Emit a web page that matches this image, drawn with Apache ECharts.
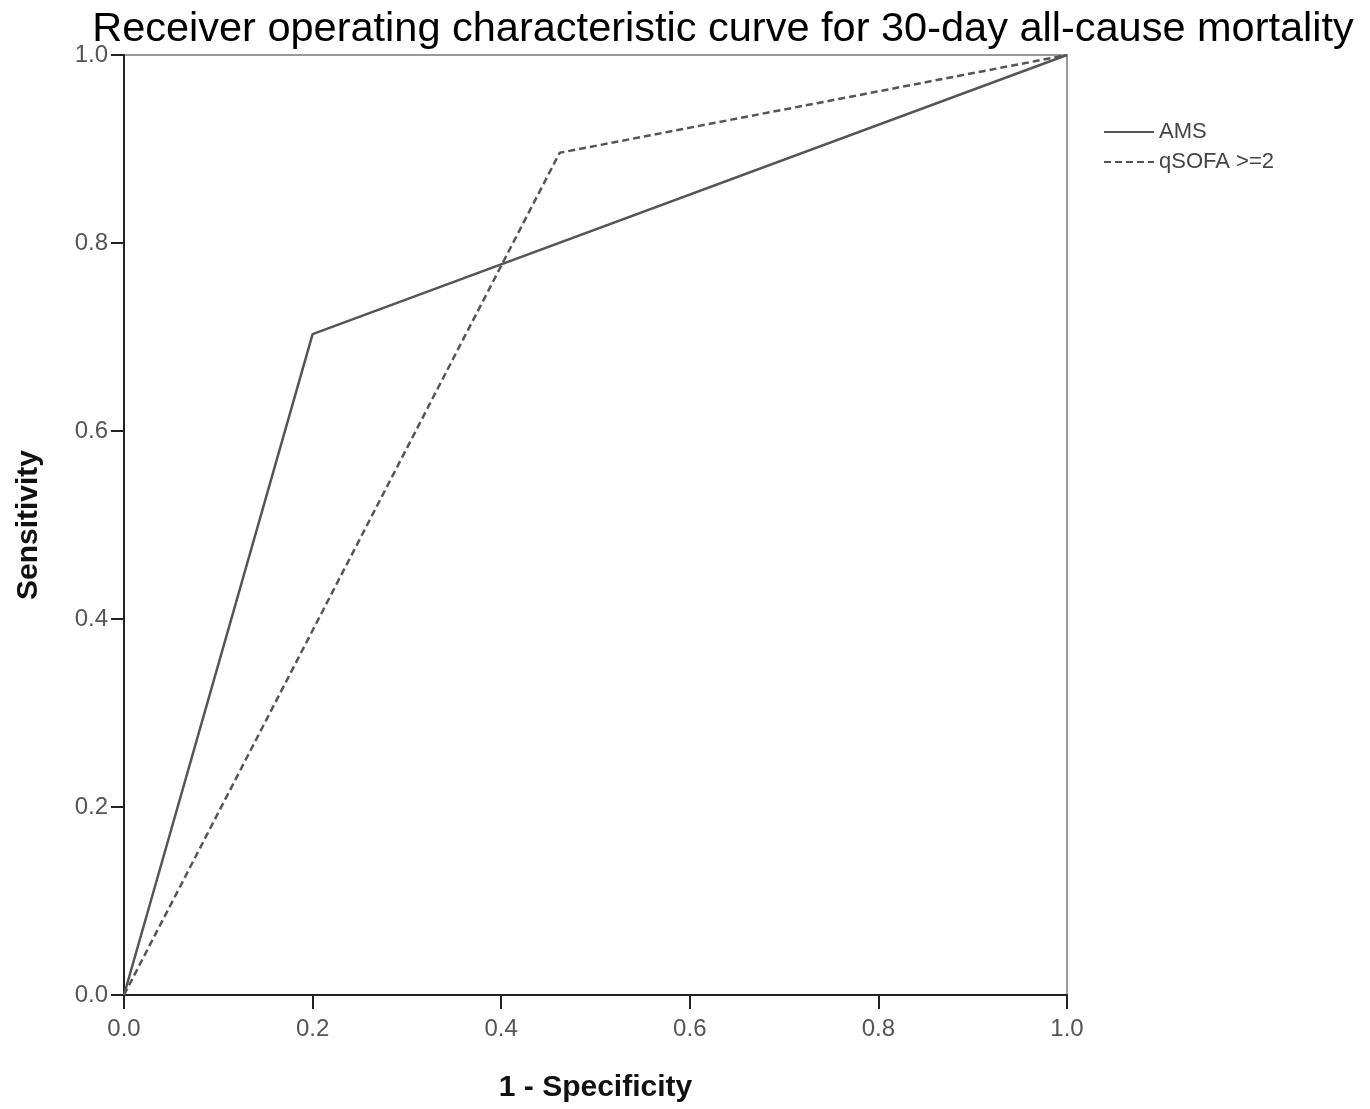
<!DOCTYPE html>
<html>
<head>
<meta charset="utf-8">
<script src="https://cdn.jsdelivr.net/npm/echarts@6/dist/echarts.min.js"></script>
<style>html,body{margin:0;padding:0;background:#fff}#c{width:1370px;height:1109px}</style>
</head>
<body>
<div id="c"></div>
<script>
const titleText = 'Receiver operating characteristic curve for 30-day all-cause mortality';
const xName = '1 - Specificity';
const yName = 'Sensitivity';
const seriesNames = ['AMS', 'qSOFA >=2'];
const amsX = [0.0, 0.2, 1.0];
const amsY = [0.0, 0.703, 1.0];
const qsofaX = [0.0, 0.462, 1.0];
const qsofaY = [0.0, 0.896, 1.0];

const chart = echarts.init(document.getElementById('c'));
const pairs = (xs, ys) => xs.map((x, i) => [x, ys[i]]);
const sans = "'Liberation Sans', Arial, sans-serif";
chart.setOption({
  animation: false,
  backgroundColor: '#fff',
  title: {
    text: titleText, left: 718, top: 4, textAlign: 'center',
    textStyle: { fontFamily: sans, fontSize: 41.5, fontWeight: 'normal', color: '#000' }
  },
  legend: {
    orient: 'vertical', left: 1098, top: 116, itemGap: 8,
    itemWidth: 50, itemHeight: 16,
    itemStyle: { opacity: 0 },
    textStyle: { fontFamily: sans, fontSize: 22, color: '#444' },
    data: seriesNames
  },
  grid: { left: 124, right: 303, top: 55, bottom: 114, show: true, borderColor: '#999', borderWidth: 2, containLabel: false, outerBoundsMode: 'none' },
  xAxis: {
    type: 'value', min: 0, max: 1, interval: 0.2,
    name: xName, nameLocation: 'middle', nameGap: 78,
    nameTextStyle: { fontFamily: sans, fontSize: 30, fontWeight: 'bold', color: '#111' },
    axisLine: { lineStyle: { color: '#222', width: 2 } },
    axisTick: { show: true, length: 14, lineStyle: { color: '#222', width: 2 } },
    axisLabel: { fontFamily: sans, fontSize: 24, color: '#555', margin: 22, formatter: v => v.toFixed(1) },
    splitLine: { show: false }
  },
  yAxis: {
    type: 'value', min: 0, max: 1, interval: 0.2,
    name: yName, nameLocation: 'middle', nameGap: 80,
    nameTextStyle: { fontFamily: sans, fontSize: 30, fontWeight: 'bold', color: '#111' },
    axisLine: { show: true, lineStyle: { color: '#222', width: 2 } },
    axisTick: { show: true, length: 13, lineStyle: { color: '#222', width: 2 } },
    axisLabel: { fontFamily: sans, fontSize: 24, color: '#555', margin: 16, formatter: v => v.toFixed(1) },
    splitLine: { show: false }
  },
  series: [
    {
      name: seriesNames[0], type: 'line', symbol: 'none',
      data: pairs(amsX, amsY),
      lineStyle: { color: '#555', width: 2.5, type: 'solid' },
      itemStyle: { color: '#555' }
    },
    {
      name: seriesNames[1], type: 'line', symbol: 'none',
      data: pairs(qsofaX, qsofaY),
      lineStyle: { color: '#555', width: 2.5, type: [7, 4] },
      itemStyle: { color: '#555' }
    }
  ]
});
</script>
</body>
</html>
